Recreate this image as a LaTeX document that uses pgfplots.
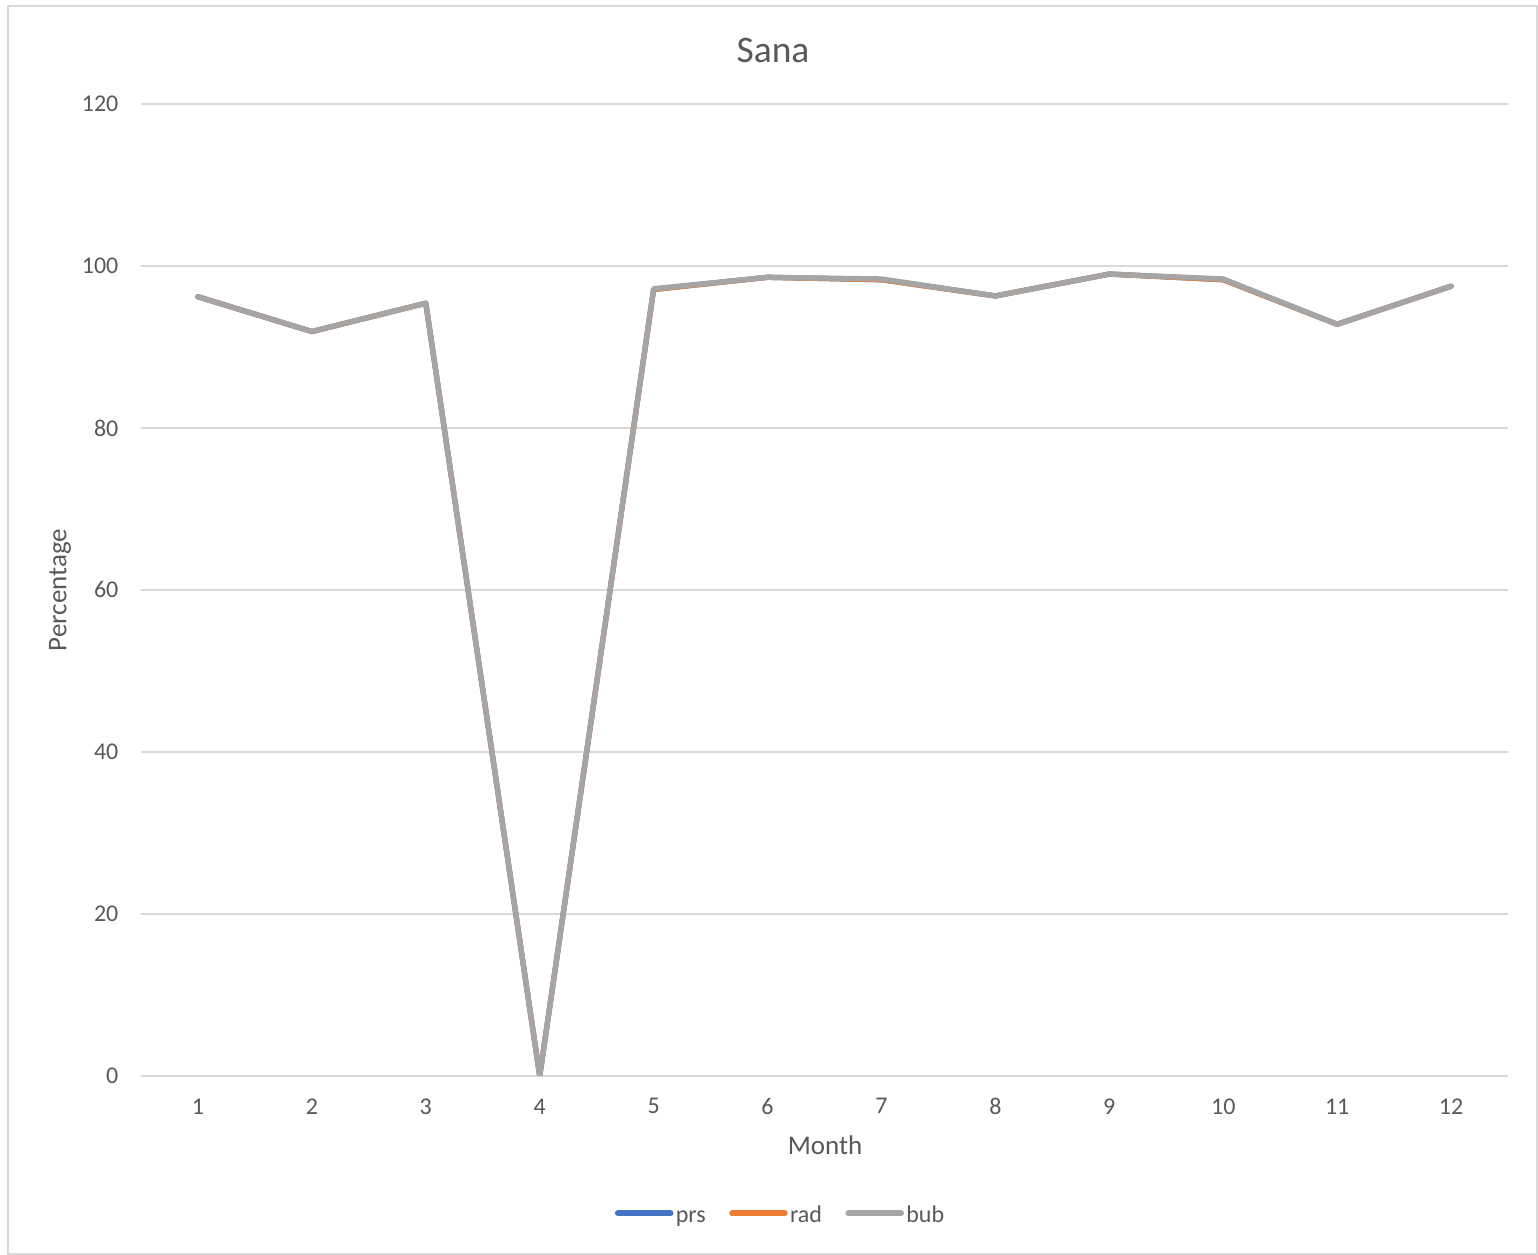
\documentclass[border=0pt]{standalone}
\usepackage{fontspec}
\setmainfont{Carlito}
\usepackage{pgfplots}
\pgfplotsset{compat=1.18}
\definecolor{txt}{HTML}{595959}
\definecolor{gridc}{HTML}{D9D9D9}
\definecolor{cprs}{HTML}{4472C4}
\definecolor{crad}{HTML}{ED7D31}
\definecolor{cbub}{HTML}{A5A5A5}
\begin{document}
\begin{tikzpicture}[x=0.33333pt,y=0.33333pt]
\path[fill=white] (0,0) rectangle (1538,1255);
\draw[gridc, line width=0.6pt] (8,1) rectangle (1537,1249);
\node[txt, font=\fontsize{12.5}{15}\selectfont] at (773,1205) {Sana};
\node[txt, font=\fontsize{9}{11}\selectfont, rotate=90] at (60,665) {Percentage};
\node[txt, font=\fontsize{9}{11}\selectfont] at (825,110) {Month};
\begin{axis}[
  at={(47pt,59.667pt)}, anchor=south west,
  scale only axis, width=455.667pt, height=324pt,
  xmin=0.5, xmax=12.5, ymin=0, ymax=120,
  xtick={1,...,12}, ytick={0,20,...,120},
  axis line style={draw=none},
  xmajorgrids=false, ymajorgrids=true,
  grid style={draw=gridc, line width=0.6pt},
  major tick length=0pt, tick style={draw=none},
  tick label style={txt, font=\fontsize{8}{10}\selectfont},
  /pgf/number format/assume math mode=true,
  xticklabel style={yshift=-4pt},
  yticklabel style={xshift=-4pt},
  legend columns=3,
  legend style={draw=none, fill=none, at={(0.468,-0.145)}, anchor=center,
    font=\fontsize{8}{10}\selectfont, text=txt,
    nodes={inner sep=0.8pt, text height=5.6pt, text depth=1.6pt},
    /tikz/every even column/.append style={column sep=7pt}},
  legend image code/.code={\draw[#1, line width=2pt, line cap=round] (0pt,1.2pt) -- (17.5pt,1.2pt);},
  every axis plot/.append style={line width=1.75pt, line join=round, line cap=round, mark=none},
]
\addplot[cprs] coordinates {(1,96.2) (2,91.9) (3,95.4) (4,0) (5,97.1) (6,98.6) (7,98.3) (8,96.3) (9,99.0) (10,98.3) (11,92.8) (12,97.5)};
\addlegendentry{prs}
\addplot[crad] coordinates {(1,96.2) (2,91.9) (3,95.4) (4,0) (5,97.1) (6,98.6) (7,98.3) (8,96.3) (9,99.0) (10,98.3) (11,92.8) (12,97.5)};
\addlegendentry{rad}
\addplot[cbub] coordinates {(1,96.2) (2,91.9) (3,95.4) (4,0) (5,97.2) (6,98.6) (7,98.4) (8,96.3) (9,99.0) (10,98.4) (11,92.8) (12,97.5)};
\addlegendentry{bub}
\end{axis}
\end{tikzpicture}
\end{document}
